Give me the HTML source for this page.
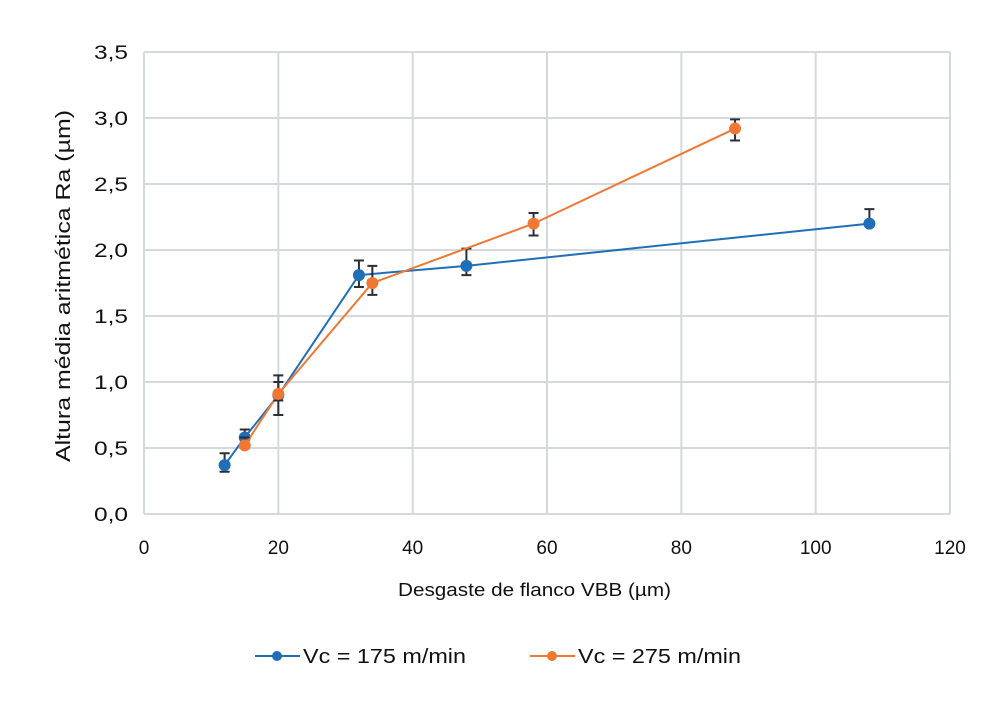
<!DOCTYPE html>
<html><head><meta charset="utf-8"><style>
body{margin:0;background:#fff;}
svg{display:block;font-family:"Liberation Sans",Arial,sans-serif;}
</style></head><body>
<svg id="chart" width="1004" height="709" viewBox="0 0 1004 709">
<g id="grid"></g>
<g id="axes"></g>
<g id="series"></g>
<text x="398" y="596" font-size="18" textLength="273" lengthAdjust="spacingAndGlyphs" fill="#111">Desgaste de flanco VBB (µm)</text>
<text transform="translate(70,462) rotate(-90)" font-size="20" textLength="352" lengthAdjust="spacingAndGlyphs" fill="#111">Altura média aritmética Ra (µm)</text>
<g>
<g>
<line x1="255" y1="656" x2="300" y2="656" stroke="#1f6fb8" stroke-width="2"/>
<circle cx="277" cy="656" r="5" fill="#1f6fb8"/>
<text x="303" y="663" font-size="20" textLength="163" lengthAdjust="spacingAndGlyphs" fill="#111">Vc = 175 m/min</text></g>
<g>
<line x1="530" y1="656" x2="575" y2="656" stroke="#f07832" stroke-width="2"/>
<circle cx="552" cy="656" r="5" fill="#f07832"/>
<text x="578" y="663" font-size="20" textLength="163" lengthAdjust="spacingAndGlyphs" fill="#111">Vc = 275 m/min</text></g>
</g>
</svg>
<script>
const xTicks=[0,20,40,60,80,100,120];
const yTicks=[0,0.5,1,1.5,2,2.5,3,3.5];
const yTickLabels=["0,0","0,5","1,0","1,5","2,0","2,5","3,0","3,5"];
const blueX=[12,15,20,32,48,108];
const blueY=[0.37,0.58,0.9,1.81,1.88,2.2];
const blueLo=[0.32,0.53,0.75,1.72,1.81,2.19];
const blueHi=[0.46,0.64,1.05,1.92,2.01,2.31];
const orangeX=[15,20,34,58,88];
const orangeY=[0.52,0.91,1.75,2.2,2.92];
const orangeLo=[0.5,0.86,1.66,2.11,2.83];
const orangeHi=[0.58,1.0,1.88,2.28,2.99];
const X0=144,X1=950,Y0=514,Y1=52;
const sx=v=>X0+(v-0)/120*(X1-X0);
const sy=v=>Y0-(v/3.5)*(Y0-Y1);
const NS="http://www.w3.org/2000/svg";
function mk(t,a,p){const e=document.createElementNS(NS,t);for(const k in a)e.setAttribute(k,a[k]);p.appendChild(e);return e;}
const grid=document.getElementById('grid'),axes=document.getElementById('axes'),ser=document.getElementById('series');
xTicks.forEach(t=>{const l=mk('line',{x1:sx(t),x2:sx(t),y1:Y1,y2:Y0,stroke:'#d4d9de','stroke-width':2},grid);

const tx=mk('text',{x:sx(t),y:Y0+40,'font-size':19,'text-anchor':'middle',fill:'#111'},axes);tx.textContent=t;
});
yTicks.forEach((t,i)=>{const l=mk('line',{x1:X0,x2:X1,y1:sy(t),y2:sy(t),stroke:'#d4d9de','stroke-width':2},grid);

const tx=mk('text',{x:X0-16,y:sy(t)+7,'font-size':19,'text-anchor':'end',textLength:34,lengthAdjust:'spacingAndGlyphs',fill:'#111'},axes);tx.textContent=yTickLabels[i];
});
function series(xs,ys,lo,hi,col,name){
const g=mk('g',{},ser);
const pl=mk('polyline',{points:xs.map((x,i)=>sx(x)+','+sy(ys[i])).join(' '),fill:'none',stroke:col,'stroke-width':2},g);

xs.forEach((x,i)=>{const e=mk('path',{d:`M${sx(x)},${sy(lo[i])}V${sy(hi[i])}M${sx(x)-5},${sy(lo[i])}h10M${sx(x)-5},${sy(hi[i])}h10`,stroke:'#2b2f3a','stroke-width':2,fill:'none'},g);
});
xs.forEach((x,i)=>{const c=mk('circle',{cx:sx(x),cy:sy(ys[i]),r:6,fill:col},g);
});}
series(blueX,blueY,blueLo,blueHi,'#1f6fb8','series-175');
series(orangeX,orangeY,orangeLo,orangeHi,'#f07832','series-275');
</script>
</body></html>
